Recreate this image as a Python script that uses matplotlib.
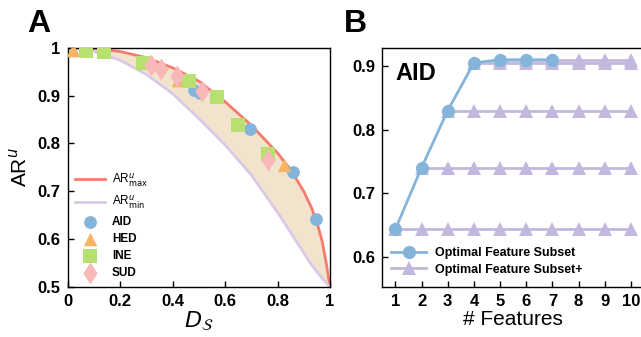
import numpy as np
import matplotlib
matplotlib.use("Agg")
import matplotlib.pyplot as plt
from matplotlib.lines import Line2D

plt.rcParams["font.family"] = ["Liberation Sans", "DejaVu Sans"]
plt.rcParams["mathtext.fontset"] = "dejavusans"

# panel A: bounds
d_grid = [0.0, 0.1, 0.2, 0.3, 0.4, 0.5, 0.6, 0.7, 0.8, 0.85, 0.9, 0.93, 0.95, 0.97, 0.985, 1.0]
ar_max = [1.0, 0.998, 0.992, 0.979, 0.958, 0.930, 0.887, 0.838, 0.780, 0.745, 0.700,
          0.665, 0.635, 0.596, 0.552, 0.5]
ar_min = [1.0, 0.992, 0.974, 0.944, 0.904, 0.852, 0.797, 0.734, 0.656, 0.614, 0.571,
          0.546, 0.532, 0.518, 0.509, 0.5]

aid_d = [0.947, 0.858, 0.695, 0.504, 0.483]
aid_ar = [0.643, 0.74, 0.83, 0.905, 0.912]
hed_d = [0.02, 0.42, 0.825]
hed_ar = [0.995, 0.932, 0.755]
ine_d = [0.07, 0.14, 0.288, 0.462, 0.571, 0.651, 0.762]
ine_ar = [0.994, 0.992, 0.969, 0.930, 0.896, 0.839, 0.778]
sud_d = [0.316, 0.356, 0.415, 0.513, 0.762]
sud_ar = [0.964, 0.955, 0.941, 0.910, 0.766]

# panel B
n_feat = [1, 2, 3, 4, 5, 6, 7]
opt_ar = [0.643, 0.74, 0.83, 0.905, 0.91, 0.91, 0.91]
plus_start = [1, 2, 3, 4, 5]
plus_ar = [0.643, 0.74, 0.83, 0.905, 0.91]
max_feat = 10

c_blue = "#84b4da"
c_orange = "#f9b365"
c_green = "#b7e070"
c_pink = "#f8b8b8"
c_red = "#f47c6e"
c_purple = "#d8cae6"
c_fill = "#f2e3cd"
c_tri = "#c2b8de"

tall_diamond = [(0, -1), (0.65, 0), (0, 1), (-0.65, 0)]

fig = plt.figure(figsize=(6.41, 3.37), dpi=100)
axA = fig.add_axes([0.1056, 0.1484, 0.4092, 0.7101])
axB = fig.add_axes([0.5964, 0.1484, 0.4083, 0.7101])

axA.fill_between(d_grid, ar_min, ar_max, color=c_fill, lw=0, zorder=1)
axA.plot(d_grid, ar_max, color=c_red, lw=2, label=r"AR$^{u}_{\rm max}$", zorder=2)
axA.plot(d_grid, ar_min, color=c_purple, lw=2, label=r"AR$^{u}_{\rm min}$", zorder=2)
axA.scatter(aid_d, aid_ar, s=85, marker="o", color=c_blue, lw=0, label="AID", zorder=3)
axA.scatter(hed_d, hed_ar, s=95, marker="^", color=c_orange, lw=0, label="HED", zorder=3)
axA.scatter(ine_d, ine_ar, s=95, marker="s", color=c_green, lw=0, label="INE", zorder=3)
axA.scatter(sud_d, sud_ar, s=250, marker=tall_diamond, color=c_pink, lw=0, label="SUD", zorder=3)

axA.set_xlim(0, 1)
axA.set_ylim(0.5, 1)
axA.set_xticks([0, 0.2, 0.4, 0.6, 0.8, 1])
axA.set_yticks([0.5, 0.6, 0.7, 0.8, 0.9, 1])
axA.set_xticklabels(["0", "0.2", "0.4", "0.6", "0.8", "1"])
axA.set_yticklabels(["0.5", "0.6", "0.7", "0.8", "0.9", "1"])
axA.set_xlabel(r"$D_{\mathcal{S}}$", fontsize=16, labelpad=0)
axA.set_ylabel(r"AR$^{u}$", fontsize=15, labelpad=5)
leg = axA.legend(loc="lower left", frameon=False, fontsize=8.5, handlelength=2.5,
                 borderaxespad=0.25, labelspacing=0.42, handletextpad=0.6)
for t in leg.get_texts()[2:]:
    t.set_fontweight("bold")

for k, v in zip(plus_start, plus_ar):
    xs = list(range(k, max_feat + 1))
    axB.plot(xs, [v] * len(xs), color=c_tri, lw=2, marker="^", ms=9.5, mew=0, zorder=2)
axB.plot(n_feat, opt_ar, color=c_blue, lw=2, marker="o", ms=9.5, mew=0, zorder=3)
axB.text(0.049, 0.94, "AID", transform=axB.transAxes, fontsize=17, fontweight="bold", va="top")

axB.set_xlim(0.5, 10.5)
axB.set_ylim(0.552, 0.929)
axB.set_xticks(range(1, 11))
axB.set_yticks([0.6, 0.7, 0.8, 0.9])
axB.set_yticklabels(["0.6", "0.7", "0.8", "0.9"])
axB.set_xlabel("# Features", fontsize=15, labelpad=1)
handles = [
    Line2D([], [], color=c_blue, lw=2, marker="o", ms=9.5, mew=0),
    Line2D([], [], color=c_tri, lw=2, marker="^", ms=9.5, mew=0),
]
legB = axB.legend(handles, ["Optimal Feature Subset", "Optimal Feature Subset+"], loc="lower left",
                  frameon=False, fontsize=9, handlelength=2.8, borderaxespad=0.3,
                  labelspacing=0.35, handletextpad=0.7, bbox_to_anchor=(0.0, 0.01))
for t in legB.get_texts():
    t.set_fontweight("bold")

for ax in (axA, axB):
    ax.tick_params(direction="in", length=4, width=1, labelsize=12, pad=5)
    for lab in ax.get_xticklabels() + ax.get_yticklabels():
        lab.set_fontweight("bold")
    for sp in ax.spines.values():
        sp.set_linewidth(1)

fig.text(0.043, 0.93, "A", fontsize=23, fontweight="bold", va="center")
fig.text(0.537, 0.93, "B", fontsize=23, fontweight="bold", va="center")

fig.savefig("out.png", dpi=100)
